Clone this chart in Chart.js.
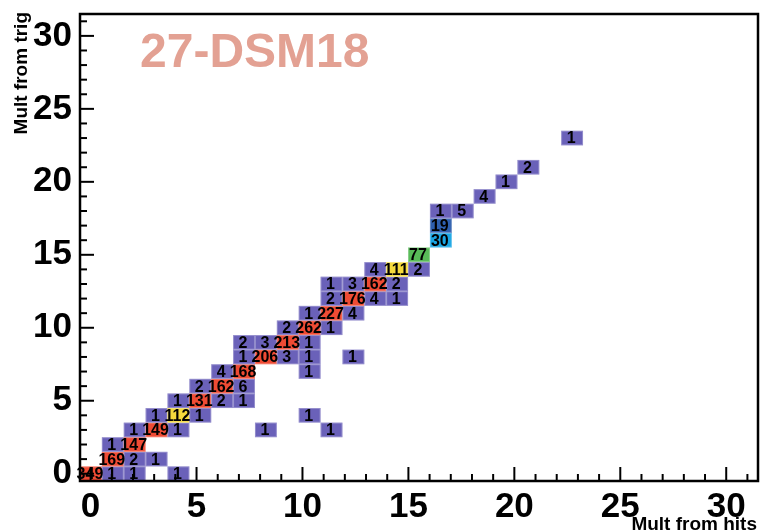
<!DOCTYPE html>
<html>
<head>
<meta charset="utf-8">
<script src="https://cdn.jsdelivr.net/npm/chart.js@4.4.1/dist/chart.umd.min.js"></script>
<style>
  html, body { margin: 0; padding: 0; background: #ffffff; }
  #wrap { width: 760px; height: 532px; }
</style>
</head>
<body>
<div id="wrap"><canvas id="c" width="760" height="532"></canvas></div>
<script>
// Trigger multiplicity vs. hit multiplicity for DSM 18 (2D histogram, counts per cell)
const hitMult = [
  0, 1, 2, 4,
  1, 2, 3,
  1, 2,
  2, 3, 4, 8, 11,
  3, 4, 5, 10,
  4, 5, 6, 7,
  5, 6, 7,
  6, 7, 10,
  7, 8, 9, 10, 12,
  7, 8, 9, 10,
  9, 10, 11,
  10, 11, 12,
  11, 12, 13, 14,
  11, 12, 13, 14,
  13, 14, 15,
  15,
  16,
  16,
  16, 17,
  18,
  19,
  20,
  22
];
const trigMult = [
  0, 0, 0, 0,
  1, 1, 1,
  2, 2,
  3, 3, 3, 3, 3,
  4, 4, 4, 4,
  5, 5, 5, 5,
  6, 6, 6,
  7, 7, 7,
  8, 8, 8, 8, 8,
  9, 9, 9, 9,
  10, 10, 10,
  11, 11, 11,
  12, 12, 12, 12,
  13, 13, 13, 13,
  14, 14, 14,
  15,
  16,
  17,
  18, 18,
  19,
  20,
  21,
  23
];
const counts = [
  349, 1, 1, 1,
  169, 2, 1,
  1, 147,
  1, 149, 1, 1, 1,
  1, 112, 1, 1,
  1, 131, 2, 1,
  2, 162, 6,
  4, 168, 1,
  1, 206, 3, 1, 1,
  2, 3, 213, 1,
  2, 262, 1,
  1, 227, 4,
  2, 176, 4, 1,
  1, 3, 162, 2,
  4, 111, 2,
  77,
  30,
  19,
  1, 5,
  4,
  1,
  2,
  1
];
const tickValues = [0, 5, 10, 15, 20, 25, 30];
const tickLabels = ['0', '5', '10', '15', '20', '25', '30'];

const titleText = '27-DSM18';
const xTitle = 'Mult from hits';
const yTitle = 'Mult from trig';

// Histogram binning: 31 bins along x, 32 along y, both spanning [-0.5, 31.5]
const AXIS_MIN = -0.5, AXIS_MAX = 31.5;
const X_BINS = 31, Y_BINS = 32;
const xEdge = i => AXIS_MIN + i * (AXIS_MAX - AXIS_MIN) / X_BINS;
const yEdge = i => AXIS_MIN + i * (AXIS_MAX - AXIS_MIN) / Y_BINS;

// Colour levels (content upper bound -> fill)
const levels = [
  [10, '#6a61b9'],
  [25, '#2e5fae'],
  [50, '#1aa6e4'],
  [95, '#58bb58'],
  [125, '#f5da3c'],
  [Infinity, '#ef4b34']
];
const colourFor = v => levels.find(l => v <= l[0])[1];

const FONT = '"Liberation Sans", Arial, Helvetica, sans-serif';

const cells = hitMult.map((x, i) => ({ x: x, y: trigMult[i], v: counts[i] }));

const histPlugin = {
  id: 'hist2d',
  beforeDatasetsDraw(chart) {
    const { ctx, scales: { x: sx, y: sy } } = chart;
    const pts = chart.data.datasets[0].data;
    ctx.save();
    pts.forEach(p => {
      const x0 = sx.getPixelForValue(xEdge(p.x));
      const x1 = sx.getPixelForValue(xEdge(p.x + 1));
      const y0 = sy.getPixelForValue(yEdge(p.y + 1));
      const y1 = sy.getPixelForValue(yEdge(p.y));
      ctx.fillStyle = colourFor(p.v);
      ctx.fillRect(x0, y0, x1 - x0, y1 - y0);
      ctx.strokeStyle = 'rgba(255,255,255,0.28)';
      ctx.lineWidth = 1;
      ctx.strokeRect(x0 + 0.5, y0 + 0.5, x1 - x0 - 1, y1 - y0 - 1);
    });
    ctx.restore();
  },
  afterDraw(chart) {
    const { ctx, chartArea: a, scales: { x: sx, y: sy } } = chart;
    ctx.save();
    // frame
    ctx.strokeStyle = '#000';
    ctx.lineWidth = 2.5;
    ctx.strokeRect(a.left, a.top, a.right - a.left, a.bottom - a.top);
    // inward ticks, major every 5, minor every 1
    ctx.lineWidth = 2;
    for (let v = 0; v <= 31; v++) {
      const len = v % 5 === 0 ? 14 : 7;
      const px = sx.getPixelForValue(v);
      ctx.beginPath();
      ctx.moveTo(px, a.bottom);
      ctx.lineTo(px, a.bottom - len);
      ctx.stroke();
      const py = sy.getPixelForValue(v);
      ctx.beginPath();
      ctx.moveTo(a.left, py);
      ctx.lineTo(a.left + len, py);
      ctx.stroke();
    }
    // cell contents
    ctx.fillStyle = '#000';
    ctx.font = 'bold 16px ' + FONT;
    ctx.textAlign = 'center';
    ctx.textBaseline = 'middle';
    chart.data.datasets[0].data.forEach(p => {
      const cx = (sx.getPixelForValue(xEdge(p.x)) + sx.getPixelForValue(xEdge(p.x + 1))) / 2;
      const cy = (sy.getPixelForValue(yEdge(p.y)) + sy.getPixelForValue(yEdge(p.y + 1))) / 2;
      ctx.fillText(String(p.v), cx - 1, cy + 1);
    });
    // histogram title
    ctx.fillStyle = '#e3a193';
    ctx.font = 'bold 48px ' + FONT;
    ctx.textAlign = 'left';
    ctx.textBaseline = 'alphabetic';
    ctx.fillText(titleText, 140, 67);
    // axis titles
    ctx.fillStyle = '#000';
    ctx.font = 'bold 19px ' + FONT;
    ctx.textAlign = 'right';
    ctx.fillText(xTitle, 757, 530);
    ctx.translate(27, 12);
    ctx.rotate(-Math.PI / 2);
    ctx.fillText(yTitle, 0, 0);
    ctx.restore();
  }
};

new Chart(document.getElementById('c'), {
  type: 'scatter',
  data: { datasets: [{ data: cells, pointRadius: 0, pointHoverRadius: 0 }] },
  options: {
    responsive: false,
    animation: false,
    events: [],
    layout: { padding: { top: 14, right: 2, left: 0, bottom: 0 } },
    plugins: { legend: { display: false }, tooltip: { enabled: false } },
    scales: {
      x: {
        type: 'linear', min: AXIS_MIN, max: AXIS_MAX,
        grid: { display: false, drawTicks: false },
        border: { display: false },
        ticks: {
          color: '#000', padding: 5, maxRotation: 0, autoSkip: false,
          font: { family: FONT, size: 35, weight: 'bold' },
          callback: (v, i) => tickLabels[i]
        },
        afterBuildTicks: s => { s.ticks = tickValues.map(v => ({ value: v })); },
        afterFit: s => {
          s.height = 51;
          s.paddingLeft = 0; s.paddingRight = 0;
          s.paddingTop = 0; s.paddingBottom = 0;
        }
      },
      y: {
        type: 'linear', min: AXIS_MIN, max: AXIS_MAX,
        grid: { display: false, drawTicks: false },
        border: { display: false },
        ticks: {
          color: '#000', padding: 8, autoSkip: false,
          font: { family: FONT, size: 35, weight: 'bold' },
          callback: (v, i) => tickLabels[i]
        },
        afterBuildTicks: s => { s.ticks = tickValues.map(v => ({ value: v })); },
        afterFit: s => {
          s.width = 80;
          s.paddingTop = 0; s.paddingBottom = 0;
          s.paddingLeft = 0; s.paddingRight = 0;
        }
      }
    }
  },
  plugins: [histPlugin]
});
</script>
</body>
</html>
